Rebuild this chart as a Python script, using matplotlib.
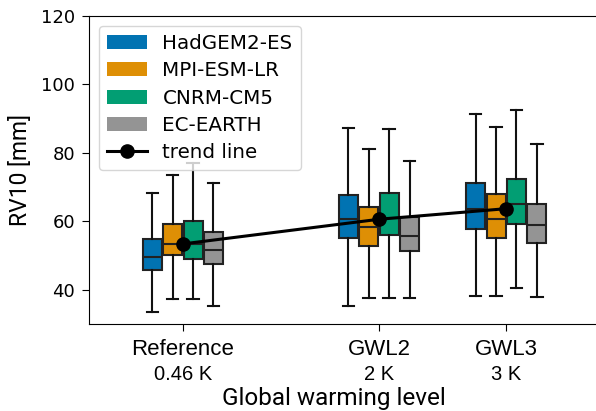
"""
boxplots of RV10 per model at each global warming level
"""

import matplotlib.pyplot as plt
from matplotlib.patches import Patch
from matplotlib.lines import Line2D
from matplotlib import transforms

models = ['HadGEM2-ES', 'MPI-ESM-LR', 'CNRM-CM5', 'EC-EARTH']
colors = ['#0173b2', '#de8f05', '#029e73', '#949494']

levels = ['Reference', 'GWL2', 'GWL3']
warming = [0.46, 2.0, 3.0]
warming_labels = ['0.46 K', '2 K', '3 K']

# per model: [level][whislo, q1, median, q3, whishi]
had = [[33.6, 45.9, 49.5, 54.8, 68.4],
       [35.4, 55.0, 60.8, 67.7, 87.3],
       [38.3, 57.9, 63.5, 71.3, 91.5]]
mpi = [[37.3, 50.2, 53.5, 59.3, 73.6],
       [37.6, 52.8, 58.2, 64.2, 81.2],
       [38.3, 55.0, 60.8, 67.9, 87.6]]
cnrm = [[37.3, 49.1, 53.3, 60.0, 76.9],
        [37.5, 56.0, 61.1, 68.4, 87.0],
        [40.4, 59.3, 65.2, 72.5, 92.4]]
ecearth = [[35.4, 47.4, 51.5, 56.8, 71.3],
           [37.5, 51.3, 55.8, 61.3, 77.6],
           [38.0, 53.8, 58.8, 65.2, 82.6]]

trend = [53.4, 60.6, 63.7]

if __name__ == '__main__':
    fig = plt.figure(figsize=(5.96, 4.11), dpi=100)
    ax = fig.add_axes([0.1493, 0.2117, 0.871, 0.7494])

    width = 0.15
    step = 0.16
    for i, (data, color) in enumerate(zip([had, mpi, cnrm, ecearth], colors)):
        stats = []
        for vals in data:
            lo, q1, med, q3, hi = vals
            stats.append(dict(whislo=lo, q1=q1, med=med, q3=q3, whishi=hi))
        pos = [w + (i - 1.5) * step for w in warming]
        ax.bxp(stats, positions=pos, widths=width, capwidths=0.09,
               patch_artist=True, showfliers=False, manage_ticks=False,
               boxprops=dict(facecolor=color, edgecolor='#222222', linewidth=1.5),
               medianprops=dict(color='#222222', linewidth=1.5),
               whiskerprops=dict(color='#111111', linewidth=1.5),
               capprops=dict(color='#111111', linewidth=1.5))

    ax.plot(warming, trend, color='black', lw=2.2, marker='o', ms=9.5, zorder=5)

    ax.set_xlim(-0.278, 3.80)
    ax.set_ylim(30, 120)
    ax.set_yticks([40, 60, 80, 100, 120])
    ax.tick_params(axis='y', labelsize=13, length=5, pad=5)
    ax.set_xticks(warming)
    ax.set_xticklabels(levels, fontsize=16, family='Liberation Sans')
    ax.tick_params(axis='x', length=5, pad=6)

    # second line under each level name
    trans = transforms.blended_transform_factory(ax.transData, ax.transAxes)
    for x, lab in zip(warming, warming_labels):
        ax.text(x, -0.165, lab, transform=trans, ha='center', va='center',
                fontsize=14.5, family='Liberation Sans')

    ax.set_ylabel('RV10 [mm]', fontsize=16.5, family='Roboto')
    ax.yaxis.set_label_coords(-0.11, 0.5)
    ax.set_xlabel('Global warming level', fontsize=17.5, family='Roboto')
    ax.xaxis.set_label_coords(0.472, -0.205)

    handles = [Patch(facecolor=c, label=m) for m, c in zip(models, colors)]
    handles.append(Line2D([], [], color='black', lw=2.2, marker='o', ms=9.5, label='trend line'))
    ax.legend(handles=handles, loc='upper left', fontsize=14.3, handlelength=2.0,
              labelspacing=0.42)

    fig.savefig('out.png', dpi=100)
